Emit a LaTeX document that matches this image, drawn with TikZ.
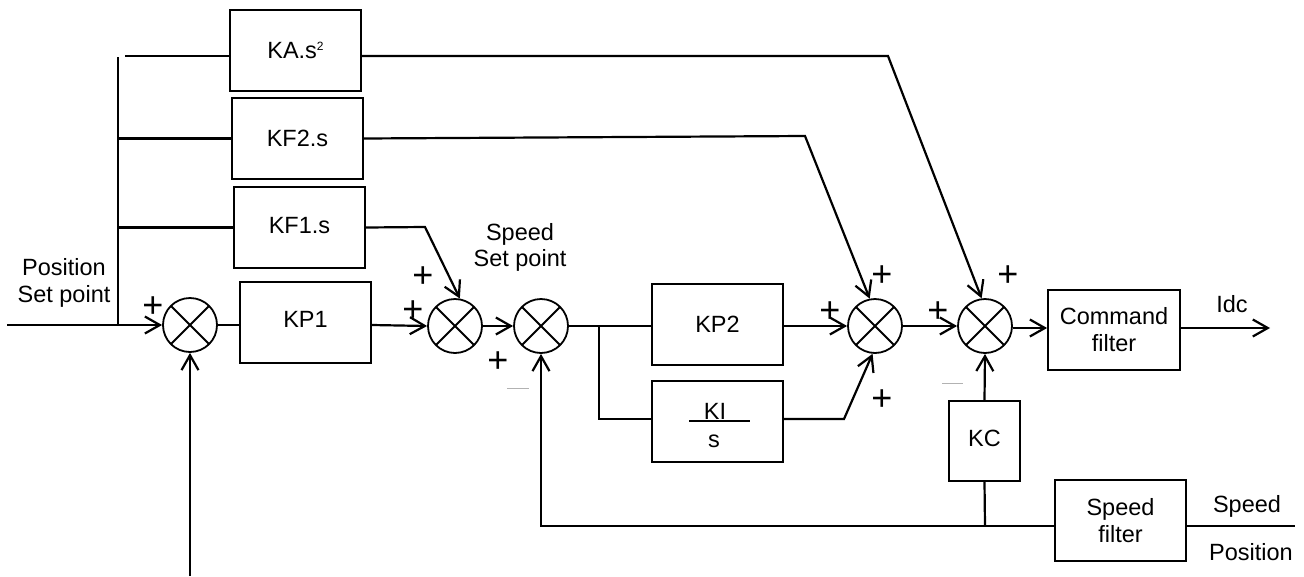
\documentclass[tikz,border=0pt]{standalone}
\usepackage{fontspec}
\setmainfont{Liberation Sans}
\usetikzlibrary{arrows.meta}
\begin{document}
\begin{tikzpicture}[x=1pt,y=-1pt,
  blk/.style={draw, line width=1.8pt, minimum width=131pt, minimum height=81pt, inner sep=0pt, font=\fontsize{23.5}{27}\selectfont, align=center},
  sumc/.style={circle, draw, line width=1.8pt, minimum size=54pt, inner sep=0pt,
    path picture={\draw[line width=1.8pt] (path picture bounding box.north west) -- (path picture bounding box.south east)
      (path picture bounding box.north east) -- (path picture bounding box.south west);}},
  pl/.style={inner sep=0pt, font=\fontsize{36}{36}\selectfont},
  lbl/.style={inner sep=0pt, font=\fontsize{23.5}{27}\selectfont, align=center},
  ln/.style={line width=2.2pt},
  arr/.style={line width=2.2pt, -{Straight Barb[length=15pt,width=17pt,line width=2.2pt]}},
  minus/.style={gray!60, line width=1pt}]
\useasboundingbox (0,0) rectangle (1304,576);

% blocks
\node[blk] (ka)  at (295.5,50.5)  {KA.s\raisebox{8pt}{\fontsize{12}{12}\selectfont 2}};
\node[blk] (kf2) at (297.5,138.5) {KF2.s};
\node[blk] (kf1) at (299.5,227.5) {\raisebox{5pt}{KF1.s}};
\node[blk] (kp1) at (305.5,322.5) {\raisebox{6pt}{KP1}};
\node[blk] (kp2) at (717.5,324.5) {KP2};
\node[blk] (ki)  at (717.5,421.5) {};
\node[blk, minimum width=132pt, minimum height=80pt] (cmd) at (1114,330) {Command\\filter};
\node[blk, minimum width=71pt, minimum height=80pt] (kc) at (984.5,441) {\raisebox{6pt}{KC}};
\node[blk] (sf)  at (1120.5,520.5) {Speed\\filter};

% KI / s
\node[lbl, anchor=base] (kin) at (715,419) {KI};
\node[lbl, anchor=base] (kis) at (714,447) {s};
\draw[line width=1.8pt] (689,421) -- (750,421);

% summing junctions
\node[sumc] (s1) at (190,325) {};
\node[sumc] (s2) at (455,326) {};
\node[sumc] (s3) at (541,326) {};
\node[sumc] (s4) at (875,326) {};
\node[sumc] (s5) at (985,326) {};

% coordinates
\coordinate (in)  at (7,325);
\coordinate (br)  at (118,325);
\coordinate (brt) at (118,57);
\coordinate (kat) at (125,56);
\coordinate (kf1k) at (425,227);
\coordinate (kf2k) at (805,136);
\coordinate (kak)  at (888,56);
\coordinate (pi)   at (599,326);
\coordinate (kik)  at (844,419);
\coordinate (idc)  at (1270,328);
\coordinate (fbk)  at (985,526);
\coordinate (outp) at (1295,526);
\coordinate (pos)  at (190,576);

% forward path
\draw[arr] (in) -- (s1.west);
\draw[ln] (br) -- (brt);
\draw[ln] (kat) -- ([yshift=-5.5pt]ka.west);
\draw[ln] (br |- kf2.west) -- (kf2.west);
\draw[ln] (br |- kf1.west) -- (kf1.west);
\draw[ln] (s1.east) -- (s1.east -| kp1.west);
\draw[arr] (s1.east -| kp1.east) -- (s2.west);
\draw[arr] (kf1.east) -- (kf1k) -- (s2.80);
\draw[arr] (s2.east) -- (s3.west);
\draw[ln] (s3.east) -- (s3.east -| kp2.west);
\draw[ln] (pi) -- (pi |- kik) -- (ki.west |- kik);
\draw[arr] (s4.west -| kp2.east) -- (s4.west);
\draw[arr] (ki.east |- kik) -- (kik) -- (s4.265);
\draw[arr] (kf2.east) -- (kf2k) -- (s4.101);
\draw[arr] ([yshift=-5.5pt]ka.east) -- (kak) -- (s5.97);
\draw[arr] (s4.east) -- (s5.west);
\draw[arr] ([yshift=-2pt]s5.east) -- ([yshift=-2pt]s5.east -| cmd.west);
\draw[arr] (cmd.east |- idc) -- (idc);

% feedback
\draw[arr] (kc.north) -- (s5.south);
\draw[ln] (kc.south) -- (fbk);
\draw[arr] ([yshift=-5.5pt]sf.west) -- (s3.south |- fbk) -- (s3.south);
\draw[ln] ([yshift=-5.5pt]sf.east) -- (outp);
\draw[arr] (pos) -- (s1.south);

% labels
\node[lbl, anchor=base] (lpos) at (64,275) {Position};
\node[lbl, anchor=base] (lpos2) at (64,302) {Set point};
\node[lbl, anchor=base] (lssp) at (520,240) {Speed};
\node[lbl, anchor=base] (lssp2) at (520,266) {Set point};
\node[lbl, anchor=base] (lidc) at (1232,312) {Idc};
\node[lbl, anchor=base] (lspd) at (1247,512) {Speed};
\node[lbl, anchor=base] (lpsn) at (1251,560) {Position};

% signs
\node[pl] (p1) at (153,307) {+};
\node[pl] (p2) at (423,277) {+};
\node[pl] (p3) at (413,311) {+};
\node[pl] (p4) at (498,362) {+};
\node[pl] (p5) at (830,312) {+};
\node[pl] (p6) at (882,276) {+};
\node[pl] (p7) at (882,400) {+};
\node[pl] (p8) at (938,312) {+};
\node[pl] (p9) at (1008,276) {+};
\draw[minus] (507,388) -- (529,388);
\draw[minus] (942,383) -- (963,383);
\end{tikzpicture}
\end{document}
